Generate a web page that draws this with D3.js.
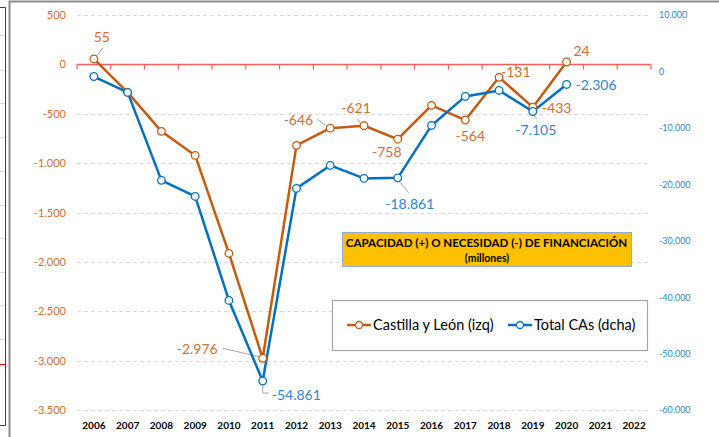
<!DOCTYPE html>
<html><head><meta charset="utf-8">
<script src="https://cdn.jsdelivr.net/npm/d3@7"></script>
<style>
html,body{margin:0;padding:0;background:#fff;}
svg{display:block;}
</style></head>
<body>
<svg id="c" width="719" height="437"></svg>
<script>
const years = ["2006","2007","2008","2009","2010","2011","2012","2013","2014","2015","2016","2017","2018","2019","2020","2021","2022"];
const castilla = [55,-284,-678,-922,-1914,-2976,-820,-646,-621,-758,-415,-564,-131,-433,24];
const totalCAs = [-900,-3720,-19300,-22150,-40580,-54861,-20730,-16660,-18960,-18861,-9570,-4430,-3370,-7105,-2306];
const leftTicks = [500,0,-500,-1000,-1500,-2000,-2500,-3000,-3500];
const rightTicks = [10000,0,-10000,-20000,-30000,-40000,-50000,-60000];
const castillaLabelIdx = [0,5,7,8,9,11,12,13,14];
const totalLabelIdx = [5,9,13,14];
const titleText = "CAPACIDAD (+) O NECESIDAD (-) DE FINANCIACIÓN";
const subtitleText = "(millones)";
const legendNames = ["Castilla y León (izq)","Total CAs (dcha)"];

// style / layout config
const ORANGE = "#C55A11", ORANGE_T = "#D0702C", BLUE = "#0070C0", BLUE_T = "#2E86D0";
const FONT = "Lato, 'Open Sans', sans-serif";
const castLabelPos = {0:[8,-22,"middle"],5:[-45,-9,"end"],7:[-17,-8,"end"],8:[-8,-18,"middle"],9:[-11,13,"middle"],11:[5,16,"middle"],12:[2,-5,"start"],13:[9,1,"start"],14:[15,-11,"middle"]};
const castLeader = {0:[[2,-2],[9,-11]],5:[[-1,-1],[-40,-10]],7:[[-2,-1],[-13,-9]],8:[[-2,-1],[-7,-7]]};
const totLabelPos = {5:[9,14,"start"],9:[12,26,"middle"],13:[3,19,"middle"],14:[9,1,"start"]};
const totLeader = {5:[[0,3],[0,12],[6,12]],9:[[0,2],[11,15]],13:[[0,2],[4,7]]};

const fmt = v => d3.format(",")(v).replace(/,/g,".").replace(/\u2212/g,"-");

const svg = d3.select("#c");

// adjacent chart fragment on the far left
const frag = svg.append("g");
[35,70,103,137,171,205,238,272,305,339].forEach(y=>{
  frag.append("line").attr("x1",0).attr("x2",5).attr("y1",y+0.5).attr("y2",y+0.5).attr("stroke","#D9D9D9");
});
frag.append("path").attr("d","M0,364.5H5.5V368").attr("fill","none").attr("stroke","#FF0000").attr("stroke-width",1.2);
frag.append("path").attr("d","M0,7.5H5.5V425.5H0").attr("fill","none").attr("stroke","#404040").attr("stroke-width",1);

// main frame
svg.append("path").attr("d","M9.5,437V1.5H719").attr("fill","none").attr("stroke","#8C8C8C").attr("stroke-width",2);

const x = d3.scaleBand().domain(years).range([77,651]);
const yL = d3.scaleLinear().domain([-3500,500]).range([410,15]);
const yR = d3.scaleLinear().domain([-60000,10000]).range([410,15]);

// gridlines
svg.append("g").selectAll("line").data(leftTicks.filter(t=>t!==0)).join("line")
  .attr("x1",77).attr("x2",651).attr("y1",d=>Math.round(yL(d))+0.5).attr("y2",d=>Math.round(yL(d))+0.5)
  .attr("stroke","#D9D9D9").attr("stroke-dasharray","4,3").attr("stroke-width",1);

// left axis
const gL = svg.append("g").attr("transform","translate(77,0)")
  .call(d3.axisLeft(yL).tickValues(leftTicks).tickSize(0).tickPadding(11).tickFormat(fmt));
gL.select(".domain").remove();
gL.selectAll("text").attr("font-family",FONT).attr("font-size",11).attr("fill",ORANGE_T);

// right axis
const gR = svg.append("g").attr("transform","translate(651,0)")
  .call(d3.axisRight(yR).tickValues(rightTicks).tickSize(0).tickPadding(8).tickFormat(fmt));
gR.select(".domain").remove();
gR.selectAll("text").attr("font-family",FONT).attr("font-size",9).attr("fill",BLUE_T);

// zero axis (red) with ticks
const y0 = Math.round(yL(0))+0.5;
svg.append("line").attr("x1",77).attr("x2",651).attr("y1",y0).attr("y2",y0).attr("stroke","#FF5A5A").attr("stroke-width",1.5);
const bounds = years.map(d=>x(d)).concat([x.range()[1]]);
svg.append("g").selectAll("line").data(bounds).join("line")
  .attr("x1",d=>d).attr("x2",d=>d).attr("y1",y0).attr("y2",y0+5).attr("stroke","#FF5A5A").attr("stroke-width",1.2);

// year labels
const gB = svg.append("g").attr("transform","translate(0,418)")
  .call(d3.axisBottom(x).tickSize(0).tickPadding(4));
gB.select(".domain").remove();
gB.selectAll("text").attr("font-family",FONT).attr("font-size",10).attr("font-weight","bold").attr("fill","#000");

const cx = i => x(years[i]) + x.bandwidth()/2;

// leader lines
function leaders(map, yf, data){
  Object.keys(map).forEach(k=>{
    const i=+k, px=cx(i), py=yf(data[i]);
    const pts = map[k].map(p=>[px+p[0],py+p[1]]);
    svg.append("path").attr("d",d3.line()(pts)).attr("fill","none").attr("stroke","#A6A6A6").attr("stroke-width",1);
  });
}
leaders(castLeader,yL,castilla);
leaders(totLeader,yR,totalCAs);

// lines
const lineL = d3.line().x((d,i)=>cx(i)).y(d=>yL(d));
const lineR = d3.line().x((d,i)=>cx(i)).y(d=>yR(d));
svg.append("path").datum(castilla).attr("d",lineL).attr("fill","none").attr("stroke",ORANGE).attr("stroke-width",2.5).attr("stroke-linejoin","round");
svg.append("path").datum(totalCAs).attr("d",lineR).attr("fill","none").attr("stroke",BLUE).attr("stroke-width",2.5).attr("stroke-linejoin","round");
svg.append("g").selectAll("circle").data(castilla).join("circle")
  .attr("cx",(d,i)=>cx(i)).attr("cy",d=>yL(d)).attr("r",3.8).attr("fill","#fff").attr("stroke",ORANGE).attr("stroke-width",1.3);
svg.append("g").selectAll("circle").data(totalCAs).join("circle")
  .attr("cx",(d,i)=>cx(i)).attr("cy",d=>yR(d)).attr("r",3.8).attr("fill","#fff").attr("stroke",BLUE).attr("stroke-width",1.3);

// data labels
castillaLabelIdx.forEach(i=>{
  const p = castLabelPos[i];
  svg.append("text").attr("x",cx(i)+p[0]).attr("y",yL(castilla[i])+p[1]).attr("dy","0.35em")
    .attr("text-anchor",p[2]).attr("font-family",FONT).attr("font-size",14).attr("fill",ORANGE_T).text(fmt(castilla[i]));
});
totalLabelIdx.forEach(i=>{
  const p = totLabelPos[i];
  svg.append("text").attr("x",cx(i)+p[0]).attr("y",yR(totalCAs[i])+p[1]).attr("dy","0.35em")
    .attr("text-anchor",p[2]).attr("font-family",FONT).attr("font-size",14).attr("fill",BLUE_T).text(fmt(totalCAs[i]));
});

// title box
svg.append("rect").attr("x",342.5).attr("y",232.5).attr("width",289).attr("height",34).attr("fill","#FFC000").attr("stroke","#8FAADC").attr("stroke-width",1);
svg.append("text").attr("x",486.5).attr("y",243).attr("dy","0.35em").attr("text-anchor","middle")
  .attr("font-family",FONT).attr("font-weight","bold").attr("font-size",11.6).attr("fill","#000").text(titleText);
svg.append("text").attr("x",487).attr("y",258).attr("dy","0.35em").attr("text-anchor","middle")
  .attr("font-family",FONT).attr("font-weight","bold").attr("font-size",10.5).attr("fill","#000").text(subtitleText);

// legend
svg.append("rect").attr("x",332.5).attr("y",300.5).attr("width",315).attr("height",50).attr("fill","#fff").attr("stroke","#A6A6A6").attr("stroke-width",1.2);
const legCols = [ORANGE,BLUE], legX = [347,508];
legendNames.forEach((n,k)=>{
  const g = svg.append("g");
  g.append("line").attr("x1",legX[k]).attr("x2",legX[k]+24).attr("y1",325).attr("y2",325).attr("stroke",legCols[k]).attr("stroke-width",2.5);
  g.append("circle").attr("cx",legX[k]+12).attr("cy",325).attr("r",3.5).attr("fill","#fff").attr("stroke",legCols[k]).attr("stroke-width",1.3);
  g.append("text").attr("x",legX[k]+26).attr("y",325).attr("dy","0.35em").attr("font-family",FONT).attr("font-size",14.5).attr("fill","#000").text(n);
});
</script>
</body></html>
